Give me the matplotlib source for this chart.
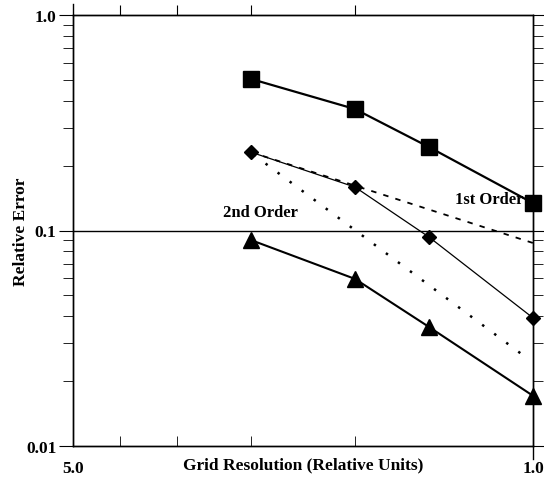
import matplotlib
matplotlib.use("Agg")
from matplotlib import pyplot as plt
from matplotlib import ticker as mtick

# font: Times-like bold serif
plt.rcParams['font.family'] = ['Liberation Serif', 'DejaVu Serif']
plt.rcParams['font.weight'] = 'bold'

# data
grid_res = [3.0, 2.0, 1.5, 1.0]
err_square = [0.505, 0.366, 0.244, 0.134]
err_diamond = [0.231, 0.159, 0.0933, 0.0393]
err_triangle = [0.0903, 0.0596, 0.0357, 0.0171]

# reference slopes
first_x = [3.0, 1.0]
first_y = [0.231, 0.0875]
second_x = [2.97, 1.03]
second_y = [0.225, 0.0259]

x_ticks = [6.0, 1.0]
x_tick_labels = ['5.0', '1.0']
x_minor = [5.0, 4.0, 3.0, 2.0]
y_ticks = [0.01, 0.1, 1.0]
y_tick_labels = ['0.01', '0.1', '1.0']

fig = plt.figure(figsize=(5.44, 4.85), dpi=100)
ax = fig.add_axes([73 / 544, 1 - 447 / 485, 460 / 544, 431 / 485])

ax.set_xscale('log')
ax.set_yscale('log')
ax.set_xlim(6.0, 1.0)
ax.set_ylim(0.01, 1.0)

# horizontal line at 0.1
ax.axhline(0.1, color='black', lw=1.0, zorder=1)

# data lines
ax.plot(grid_res, err_square, color='black', lw=1.6, marker='s', markersize=11, zorder=3, clip_on=False)
ax.plot(grid_res, err_diamond, color='black', lw=0.9, marker='D', markersize=7, zorder=3, clip_on=False)
ax.plot(grid_res, err_triangle, color='black', lw=1.5, marker='^', markersize=12, zorder=3, clip_on=False)

# order lines
ax.plot(first_x, first_y, color='black', lw=1.3, linestyle=(0, (3, 4)), zorder=2)
ax.plot(second_x, second_y, color='black', lw=1.8, linestyle=(0, (1, 5)), zorder=2)

ax.text(1.354, 0.128, '1st Order', fontsize=12, fontweight='bold', ha='left', va='bottom')
ax.text(3.35, 0.112, '2nd Order', fontsize=12, fontweight='bold', ha='left', va='bottom')

# x ticks: bottom inward
ax.xaxis.set_major_locator(mtick.FixedLocator(x_ticks))
ax.xaxis.set_major_formatter(mtick.FixedFormatter(x_tick_labels))
ax.xaxis.set_minor_locator(mtick.FixedLocator(x_minor))
ax.xaxis.set_minor_formatter(mtick.NullFormatter())
ax.tick_params(axis='x', which='major', length=0, pad=10, labelsize=12.5)
ax.tick_params(axis='x', which='minor', direction='in', length=7)

# top ticks outward
ax_top = ax.twiny()
ax_top.set_xscale('log')
ax_top.set_xlim(6.0, 1.0)
ax_top.xaxis.set_major_locator(mtick.FixedLocator(x_minor))
ax_top.xaxis.set_major_formatter(mtick.NullFormatter())
ax_top.xaxis.set_minor_locator(mtick.NullLocator())
ax_top.tick_params(axis='x', which='major', direction='out', length=7)

# y ticks
ax.yaxis.set_major_locator(mtick.FixedLocator(y_ticks))
ax.yaxis.set_major_formatter(mtick.FixedFormatter(y_tick_labels))
ax.yaxis.set_minor_locator(mtick.LogLocator(base=10, subs=range(2, 10)))
ax.yaxis.set_minor_formatter(mtick.NullFormatter())
ax.tick_params(axis='y', which='major', direction='out', length=10, left=True, right=True, labelsize=12.5, pad=2)
ax.tick_params(axis='y', which='minor', direction='out', length=7, left=True, right=True)

for a in (ax, ax_top):
    for spine in a.spines.values():
        spine.set_linewidth(1.0)

# spine overhangs
ax.plot([0, 0], [1.0, 1.025], transform=ax.transAxes, color='black', lw=1.0, clip_on=False)
ax.plot([1, 1], [0.0, -0.03], transform=ax.transAxes, color='black', lw=1.0, clip_on=False)

ax.set_xlabel('Grid Resolution (Relative Units)', fontsize=12.5, fontweight='bold', labelpad=-14)
ax.set_ylabel('Relative Error', fontsize=12.5, fontweight='bold', labelpad=-2)

plt.savefig('out.png', dpi=100)
